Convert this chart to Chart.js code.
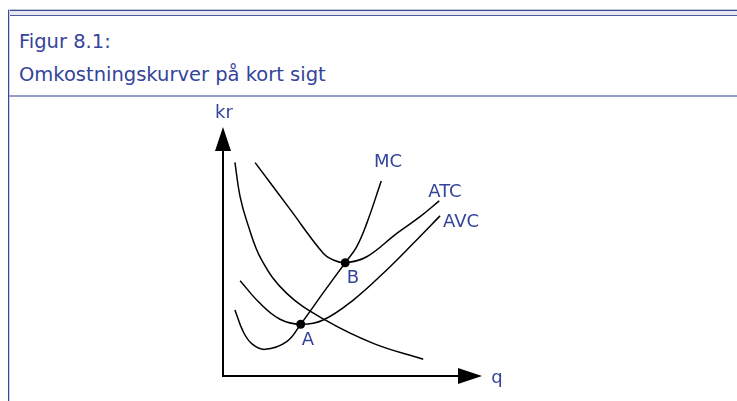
<!DOCTYPE html>
<html>
<head>
<meta charset="utf-8">
<script src="https://cdn.jsdelivr.net/npm/chart.js@4.4.1/dist/chart.umd.min.js"></script>
<style>
  html, body { margin: 0; padding: 0; background: #fff; }
  body { width: 737px; height: 401px; position: relative; overflow: hidden;
         font-family: "DejaVu Sans", sans-serif; }
  .topbar { position: absolute; left: 8px; right: 0; top: 10px; height: 4px;
            border-top: 1px solid #3a4a9a; border-bottom: 1px solid #4c5aa2;
            background: #e8e8ee; box-shadow: 0 -1px 0 #c4c8d8; }
  .leftline { position: absolute; left: 8px; top: 10px; bottom: 0; width: 1px;
              background: #3a4a9a; border-right: 1px solid #cdd1e4; }
  .sep { position: absolute; left: 9px; right: 0; top: 95px; height: 2px; background: #959dc6; }
  .title { position: absolute; left: 19px; color: #34449a; font-size: 19.5px; line-height: 22px; white-space: nowrap; }
  #chart { position: absolute; left: 0; top: 0; }
</style>
</head>
<body>
<div class="topbar"></div>
<div class="leftline"></div>
<div class="title" style="top:31px">Figur 8.1:</div>
<div class="title" style="top:64px">Omkostningskurver på kort sigt</div>
<div class="sep"></div>
<canvas id="chart" width="737" height="401"></canvas>
<script>
// kurverne (q, kr)
const mcQ  = [0.46, 0.78, 1.12, 1.62, 2.46, 3.00, 3.86, 4.72, 5.16, 5.55, 6.11];
const mcKr = [2.65, 1.78, 1.29, 1.07, 1.38, 2.08, 3.33, 4.55, 5.19, 6.13, 7.83];

const atcQ  = [1.24, 2.55, 3.87, 4.26, 4.71, 5.55, 6.71, 7.61, 8.35];
const atcKr = [8.57, 6.75, 4.93, 4.66, 4.55, 4.79, 5.73, 6.40, 7.03];

const avcQ  = [0.66, 1.40, 2.20, 3.00, 3.87, 5.03, 6.32, 7.35, 8.38];
const avcKr = [3.83, 2.95, 2.28, 2.08, 2.25, 3.05, 4.26, 5.33, 6.43];

const afcQ  = [0.46, 0.66, 0.93, 1.49, 2.46, 3.94, 5.80, 7.73];
const afcKr = [8.58, 7.20, 6.18, 4.66, 3.32, 2.25, 1.31, 0.67];

// skæringspunkterne A og B
const pointQ  = [3.00, 4.72];
const pointKr = [2.08, 4.55];

// tekster i figuren
const labelText = ['MC', 'ATC', 'AVC', 'A', 'B', 'kr', 'q'];
const labelQ    = [6.37, 8.57, 9.19, 3.28, 5.02, 0.04, 10.58];
const labelKr   = [8.59, 7.39, 6.19, 1.45, 3.94, 10.55, -0.1];

const qMax = 10;
const krMax = 10;

function toPoints(xs, ys) {
    return xs.map((x, i) => ({ x: x, y: ys[i] }));
}

function curve(xs, ys) {
    return {
        data: toPoints(xs, ys),
        showLine: true,
        borderColor: '#000',
        borderWidth: 1.5,
        pointRadius: 0,
        tension: 0.4,
        fill: false
    };
}

// akser med pile
const axesPlugin = {
    id: 'axes',
    beforeDatasetsDraw(chart) {
        const ctx = chart.ctx;
        const xs = chart.scales.x, ys = chart.scales.y;
        const x0 = xs.getPixelForValue(0), y0 = ys.getPixelForValue(0);
        const xEnd = xs.getPixelForValue(qMax), yEnd = ys.getPixelForValue(krMax);
        const len = 24, half = 8;
        ctx.save();
        ctx.strokeStyle = '#000';
        ctx.fillStyle = '#000';
        ctx.lineWidth = 2;
        ctx.beginPath();
        ctx.moveTo(x0, yEnd + len);
        ctx.lineTo(x0, y0);
        ctx.lineTo(xEnd - len, y0);
        ctx.stroke();
        ctx.beginPath();
        ctx.moveTo(x0, yEnd);
        ctx.lineTo(x0 - half, yEnd + len);
        ctx.lineTo(x0 + half, yEnd + len);
        ctx.closePath();
        ctx.fill();
        ctx.beginPath();
        ctx.moveTo(xEnd, y0);
        ctx.lineTo(xEnd - len, y0 - half);
        ctx.lineTo(xEnd - len, y0 + half);
        ctx.closePath();
        ctx.fill();
        ctx.restore();
    },
    afterDatasetsDraw(chart) {
        const ctx = chart.ctx;
        const xs = chart.scales.x, ys = chart.scales.y;
        ctx.save();
        ctx.fillStyle = '#34449a';
        ctx.font = '18px "DejaVu Sans"';
        ctx.textAlign = 'center';
        ctx.textBaseline = 'middle';
        labelText.forEach((t, i) => {
            ctx.fillText(t, xs.getPixelForValue(labelQ[i]), ys.getPixelForValue(labelKr[i]));
        });
        ctx.restore();
    }
};

new Chart(document.getElementById('chart'), {
    type: 'scatter',
    data: {
        datasets: [
            curve(mcQ, mcKr),
            curve(atcQ, atcKr),
            curve(avcQ, avcKr),
            curve(afcQ, afcKr),
            {
                data: toPoints(pointQ, pointKr),
                showLine: false,
                pointRadius: 4.5,
                pointBackgroundColor: '#000',
                pointBorderWidth: 0
            }
        ]
    },
    options: {
        responsive: false,
        animation: false,
        devicePixelRatio: 1,
        layout: { padding: { left: 223, right: 255, top: 127, bottom: 25 } },
        plugins: { legend: { display: false }, tooltip: { enabled: false } },
        scales: {
            x: { type: 'linear', min: 0, max: qMax, display: false },
            y: { type: 'linear', min: 0, max: krMax, display: false }
        }
    },
    plugins: [axesPlugin]
});
</script>
</body>
</html>
